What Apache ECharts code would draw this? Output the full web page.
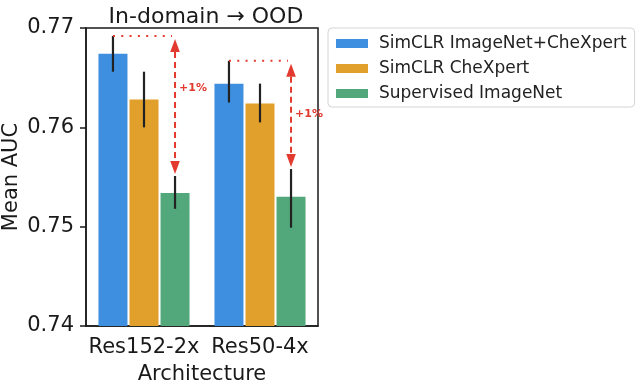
<!DOCTYPE html>
<html>
<head>
<meta charset="utf-8">
<script src="https://cdn.jsdelivr.net/npm/echarts@6/dist/echarts.min.js"></script>
<style>html,body{margin:0;padding:0;background:#fff}#c{width:640px;height:390px}</style>
</head>
<body>
<div id="c"></div>
<script>
var categories = ['Res152-2x', 'Res50-4x'];
var seriesNames = ['SimCLR ImageNet+CheXpert', 'SimCLR CheXpert', 'Supervised ImageNet'];
var simclrBoth = [0.7674, 0.7644];
var simclrBothLow = [0.7656, 0.7625];
var simclrBothHigh = [0.7692, 0.7667];
var simclrChex = [0.7628, 0.7624];
var simclrChexLow = [0.7600, 0.7605];
var simclrChexHigh = [0.7656, 0.7644];
var supervised = [0.7534, 0.7530];
var supervisedLow = [0.7518, 0.7499];
var supervisedHigh = [0.7551, 0.7558];
var gainLabel = ['+1%', '+1%'];
var gainLabelY = [0.7639, 0.7613];
var yTicks = [0.74, 0.75, 0.76, 0.77];

var colors = ['#3f8fe0', '#e1a02c', '#52a87a'];
var FONT = 'DejaVu Sans';
var BAR_W = 29, BAR_GAP = 0.07;
var STEP = BAR_W * (1 + BAR_GAP);

var values = [simclrBoth, simclrChex, supervised];
var lows = [simclrBothLow, simclrChexLow, supervisedLow];
var highs = [simclrBothHigh, simclrChexHigh, supervisedHigh];

var errData = [];
for (var s = 0; s < 3; s++) {
  for (var c = 0; c < categories.length; c++) {
    errData.push([c, lows[s][c], highs[s][c], s]);
  }
}
var annData = [];
for (var c2 = 0; c2 < categories.length; c2++) {
  annData.push([c2, simclrBothHigh[c2], supervisedHigh[c2], gainLabelY[c2]]);
}

var chart = echarts.init(document.getElementById('c'), null, {renderer: 'canvas'});
var RED = '#e23a2e';

chart.setOption({
  animation: false,
  textStyle: {fontFamily: FONT},
  title: {
    text: 'In-domain \u2192 OOD',
    left: 201, top: 1, textAlign: 'center',
    textStyle: {fontFamily: FONT, fontSize: 22, fontWeight: 'normal', color: '#1a1a1a'}
  },
  legend: {
    data: seriesNames,
    orient: 'vertical',
    left: 328, top: 28,
    padding: [7, 8, 5, 8],
    itemWidth: 32, itemHeight: 9, itemGap: 8,
    icon: 'rect',
    borderColor: '#d4d4d4', borderWidth: 1, borderRadius: 4,
    backgroundColor: '#fff',
    textStyle: {fontFamily: FONT, fontSize: 17, color: '#222', padding: [0, 0, 0, 6]}
  },
  grid: {
    left: 85, right: 322, top: 28, bottom: 64,
    show: true, borderColor: '#1a1a1a', borderWidth: 1.5, backgroundColor: 'transparent'
  },
  xAxis: {
    type: 'category',
    data: categories,
    name: 'Architecture',
    nameLocation: 'middle',
    nameGap: 38,
    nameTextStyle: {fontFamily: FONT, fontSize: 21, color: '#1a1a1a'},
    axisLine: {lineStyle: {color: '#1a1a1a', width: 1.5}},
    axisTick: {alignWithLabel: true, length: 6, lineStyle: {color: '#1a1a1a', width: 1.5}},
    axisLabel: {fontFamily: FONT, fontSize: 21, color: '#1a1a1a', margin: 11, interval: 0, hideOverlap: false},
    splitLine: {show: false}
  },
  yAxis: {
    type: 'value',
    min: 0.74, max: 0.77, interval: 0.01,
    name: 'Mean AUC',
    nameLocation: 'middle',
    nameGap: 64,
    nameRotate: 90,
    nameTextStyle: {fontFamily: FONT, fontSize: 21, color: '#1a1a1a'},
    axisLine: {show: true, lineStyle: {color: '#1a1a1a', width: 1.5}},
    axisTick: {show: true, length: 6, lineStyle: {color: '#1a1a1a', width: 1.5}},
    axisLabel: {
      fontFamily: FONT, fontSize: 21, color: '#1a1a1a', margin: 12,
      formatter: function (v) { return v.toFixed(2); }
    },
    splitLine: {show: false}
  },
  series: [
    {name: seriesNames[0], type: 'bar', data: simclrBoth, barWidth: BAR_W, barGap: (BAR_GAP * 100) + '%', itemStyle: {color: colors[0]}},
    {name: seriesNames[1], type: 'bar', data: simclrChex, barWidth: BAR_W, barGap: (BAR_GAP * 100) + '%', itemStyle: {color: colors[1]}},
    {name: seriesNames[2], type: 'bar', data: supervised, barWidth: BAR_W, barGap: (BAR_GAP * 100) + '%', itemStyle: {color: colors[2]}},
    {
      name: 'err', type: 'custom', data: errData, z: 5,
      encode: {x: 0, y: [1, 2]},
      renderItem: function (params, api) {
        var c = api.value(0), s = api.value(3);
        var p1 = api.coord([c, api.value(1)]);
        var p2 = api.coord([c, api.value(2)]);
        var x = p1[0] + (s - 1) * STEP;
        return {
          type: 'line',
          shape: {x1: x, y1: p1[1], x2: x, y2: p2[1]},
          style: {stroke: '#222', lineWidth: 2.2}
        };
      }
    },
    {
      name: 'ann', type: 'custom', data: annData, z: 6,
      encode: {x: 0, y: [1, 2]},
      renderItem: function (params, api) {
        var c = api.value(0);
        var pt = api.coord([c, api.value(1)]);
        var pb = api.coord([c, api.value(2)]);
        var pl = api.coord([c, api.value(3)]);
        var xb = pt[0] - STEP, xg = pt[0] + STEP;
        var yT = pt[1], yB = pb[1];
        var tipT = yT + 3, tipB = yB - 2;
        var hl = 13, hw = 4.8;
        return {
          type: 'group',
          children: [
            {type: 'line', shape: {x1: xb, y1: yT, x2: xg - 3, y2: yT},
             style: {stroke: RED, lineWidth: 2, lineDash: [2, 6.3]}},
            {type: 'line', shape: {x1: xg, y1: tipT + hl, x2: xg, y2: tipB - hl},
             style: {stroke: RED, lineWidth: 2, lineDash: [6, 4]}},
            {type: 'polygon', shape: {points: [[xg, tipT], [xg - hw, tipT + hl], [xg + hw, tipT + hl]]},
             style: {fill: RED}},
            {type: 'polygon', shape: {points: [[xg, tipB], [xg - hw, tipB - hl], [xg + hw, tipB - hl]]},
             style: {fill: RED}},
            {type: 'text', x: xg + 4, y: pl[1],
             style: {text: gainLabel[c], fill: RED, font: 'bold 11px "DejaVu Sans"',
                     textAlign: 'left', textVerticalAlign: 'middle'}}
          ]
        };
      }
    }
  ]
});
</script>
</body>
</html>
